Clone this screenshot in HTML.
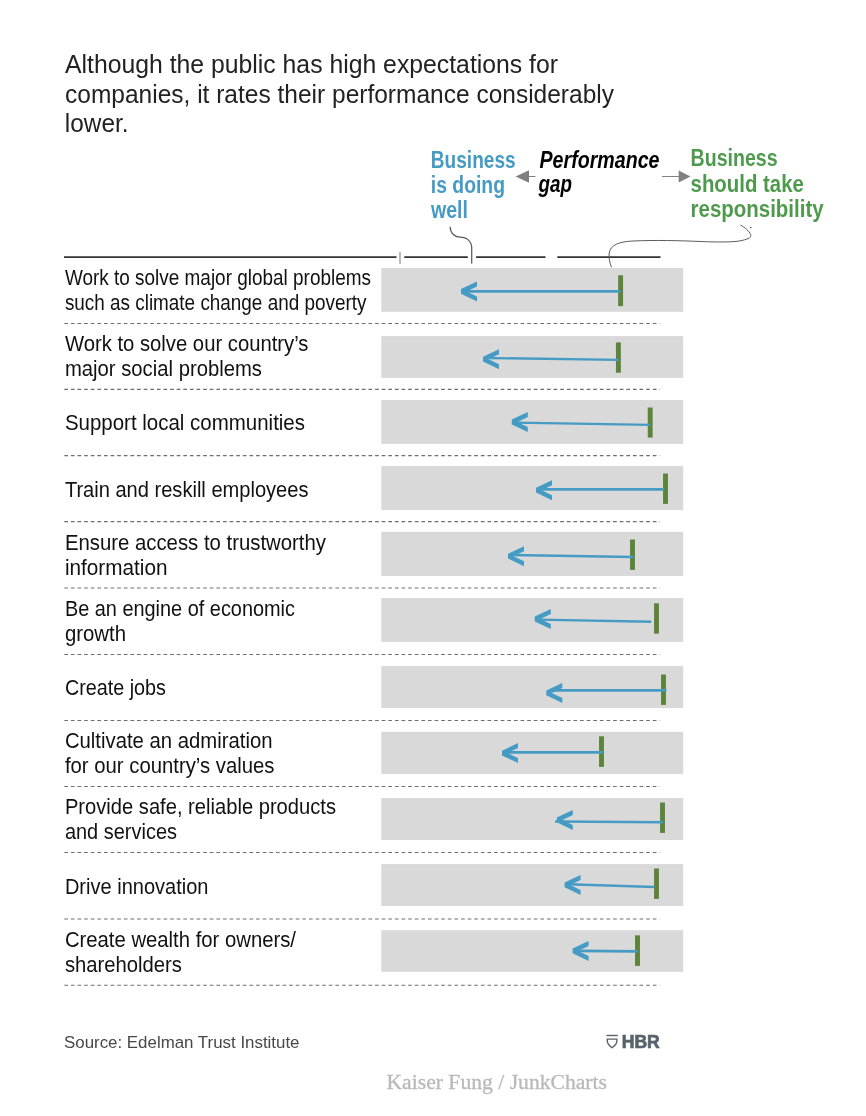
<!DOCTYPE html>
<html lang="en"><head><meta charset="utf-8"><title>Performance gap</title>
<style>
html,body{margin:0;padding:0;background:#fff;}
svg{display:block;}
text{font-family:"Liberation Sans",sans-serif;}
.t{font-size:25.2px;fill:#222;}
.l{font-size:22.5px;fill:#111;}
.hb{font-size:23px;font-weight:bold;}
.hi{font-size:23.5px;font-weight:bold;font-style:italic;}
.src{font-size:16.8px;fill:#484848;}
.wm{font-family:"Liberation Serif",serif;font-size:20.8px;fill:#b9b9b9;stroke:#b9b9b9;stroke-width:0.3px;}
.hbr{font-size:18.3px;font-weight:bold;fill:#59636b;}
</style></head><body>
<svg width="866" height="1116" viewBox="0 0 866 1116">
<rect width="866" height="1116" fill="#fff"/>
<text class="t" x="65" y="72.8" textLength="493.0" lengthAdjust="spacingAndGlyphs">Although the public has high expectations for</text>
<text class="t" x="65" y="102.5" textLength="549.0" lengthAdjust="spacingAndGlyphs">companies, it rates their performance considerably</text>
<text class="t" x="64.8" y="131.9" textLength="63.7" lengthAdjust="spacingAndGlyphs">lower.</text>
<text class="hb" x="430.8" y="168.0" textLength="84.8" lengthAdjust="spacingAndGlyphs" fill="#459bc3">Business</text>
<text class="hb" x="430.8" y="193.0" textLength="74.2" lengthAdjust="spacingAndGlyphs" fill="#459bc3">is doing</text>
<text class="hb" x="431" y="218.0" textLength="37.0" lengthAdjust="spacingAndGlyphs" fill="#459bc3">well</text>
<text class="hi" x="539.5" y="167.6" textLength="120.0" lengthAdjust="spacingAndGlyphs" fill="#000">Performance</text>
<text class="hi" x="538.5" y="192.4" textLength="33.5" lengthAdjust="spacingAndGlyphs" fill="#000">gap</text>
<text class="hb" x="690.6" y="166.3" textLength="87.0" lengthAdjust="spacingAndGlyphs" fill="#4e9a4c">Business</text>
<text class="hb" x="690.6" y="191.7" textLength="113.2" lengthAdjust="spacingAndGlyphs" fill="#4e9a4c">should take</text>
<text class="hb" x="690.6" y="217.0" textLength="133.0" lengthAdjust="spacingAndGlyphs" fill="#4e9a4c">responsibility</text>
<g fill="#808080" stroke="#808080" stroke-width="1">
<path d="M515.6 176.5 L529 170.3 L529 182.7 Z" stroke="none"/><path d="M529 176.5 H535.5" fill="none"/>
<path d="M690.5 176.5 L678.7 170.5 L678.7 182.5 Z" stroke="none"/><path d="M662 176.5 H679" fill="none"/>
</g>
<g stroke="#333" stroke-width="1.8" fill="none">
<path d="M64 257.15 H396.5 M404.3 257.15 H467.8 M476.1 257.15 H545.5 M557.3 257.15 H660.5"/>
</g>
<path d="M400 252 V264" stroke="#a6a6a6" stroke-width="1.5" fill="none"/>
<rect x="381.3" y="268" width="301.9" height="43.8" fill="#d9d9d9"/>
<rect x="381.3" y="336.1" width="301.9" height="41.8" fill="#d9d9d9"/>
<rect x="381.3" y="400" width="301.9" height="43.9" fill="#d9d9d9"/>
<rect x="381.3" y="466" width="301.9" height="44.1" fill="#d9d9d9"/>
<rect x="381.3" y="531.8" width="301.9" height="44.2" fill="#d9d9d9"/>
<rect x="381.3" y="598" width="301.9" height="43.9" fill="#d9d9d9"/>
<rect x="381.3" y="666.1" width="301.9" height="41.9" fill="#d9d9d9"/>
<rect x="381.3" y="731.8" width="301.9" height="42.2" fill="#d9d9d9"/>
<rect x="381.3" y="798" width="301.9" height="42.0" fill="#d9d9d9"/>
<rect x="381.3" y="864.1" width="301.9" height="41.9" fill="#d9d9d9"/>
<rect x="381.3" y="930.2" width="301.9" height="41.6" fill="#d9d9d9"/>
<g stroke="#5c5c5c" fill="none">
<path stroke-width="1.25" d="M450.1 226.7 C450.3 233 454.5 237.1 460 237.1 C467 237.1 471.7 241.5 471.7 248 V263.8"/>
<path stroke-width="1" d="M611.5 267.4 C609.5 262 608.6 257 609.2 253 C610.5 244.5 620 241.6 633 241 C655 240 680 240.6 700 241.5 C718 242.3 735 242.2 742 240.5 C749 238.8 751.8 237 750.6 234.5 C749.3 231 745 227.6 740.5 225.1"/>
</g>
<circle cx="750.7" cy="227.5" r="0.8" fill="#444"/>
<g stroke="#6e6e6e" stroke-width="1.1" stroke-dasharray="3.7 2.912" fill="none">
<path d="M64.3 323.5 H659.7"/>
<path d="M64.3 389.4 H659.7"/>
<path d="M64.3 455.6 H659.7"/>
<path d="M64.3 521.6 H659.7"/>
<path d="M64.3 588.0 H659.7"/>
<path d="M64.3 654.5 H659.7"/>
<path d="M64.3 720.5 H659.7"/>
<path d="M64.3 786.5 H659.7"/>
<path d="M64.3 852.5 H659.7"/>
<path d="M64.3 919.0 H659.7"/>
<path d="M64.3 985.3 H659.7"/>
</g>
<text class="l" x="64.9" y="285" textLength="306.1" lengthAdjust="spacingAndGlyphs">Work to solve major global problems</text>
<text class="l" x="64.9" y="310" textLength="301.5" lengthAdjust="spacingAndGlyphs">such as climate change and poverty</text>
<text class="l" x="64.9" y="351.1" textLength="243.6" lengthAdjust="spacingAndGlyphs">Work to solve our country’s</text>
<text class="l" x="64.9" y="375.6" textLength="197.1" lengthAdjust="spacingAndGlyphs">major social problems</text>
<text class="l" x="64.9" y="430.4" textLength="240.1" lengthAdjust="spacingAndGlyphs">Support local communities</text>
<text class="l" x="64.9" y="496.6" textLength="243.6" lengthAdjust="spacingAndGlyphs">Train and reskill employees</text>
<text class="l" x="64.9" y="549.7" textLength="261.1" lengthAdjust="spacingAndGlyphs">Ensure access to trustworthy</text>
<text class="l" x="64.9" y="574.5" textLength="102.6" lengthAdjust="spacingAndGlyphs">information</text>
<text class="l" x="64.9" y="616" textLength="230.1" lengthAdjust="spacingAndGlyphs">Be an engine of economic</text>
<text class="l" x="64.9" y="641" textLength="61.1" lengthAdjust="spacingAndGlyphs">growth</text>
<text class="l" x="64.9" y="695.3" textLength="101.1" lengthAdjust="spacingAndGlyphs">Create jobs</text>
<text class="l" x="64.9" y="748.4" textLength="207.6" lengthAdjust="spacingAndGlyphs">Cultivate an admiration</text>
<text class="l" x="64.9" y="773.3" textLength="209.6" lengthAdjust="spacingAndGlyphs">for our country’s values</text>
<text class="l" x="64.9" y="814.4" textLength="271.1" lengthAdjust="spacingAndGlyphs">Provide safe, reliable products</text>
<text class="l" x="64.9" y="839.3" textLength="112.1" lengthAdjust="spacingAndGlyphs">and services</text>
<text class="l" x="64.9" y="894.1" textLength="143.6" lengthAdjust="spacingAndGlyphs">Drive innovation</text>
<text class="l" x="64.9" y="946.6" textLength="231.1" lengthAdjust="spacingAndGlyphs">Create wealth for owners/</text>
<text class="l" x="64.9" y="971.5" textLength="117.1" lengthAdjust="spacingAndGlyphs">shareholders</text>
<rect x="618.15" y="275.3" width="4.9" height="30.8" fill="#5c843b"/>
<path d="M464.0 291.4 L620.4 291.4" stroke="#459bc3" stroke-width="2.9" fill="none"/>
<path transform="translate(461.0 291.4)" d="M0 -2.4 L16 -10 V-5 L5.5 0 L16 5 V10 L0 2.4 Z" fill="#459bc3"/>
<rect x="615.95" y="342.4" width="4.9" height="30.3" fill="#5c843b"/>
<path d="M486.0 358.0 L619.0 359.9" stroke="#459bc3" stroke-width="2.4" fill="none"/>
<path transform="translate(483.0 359.2)" d="M0 -2.4 L16 -10 V-5 L5.5 0 L16 5 V10 L0 2.4 Z" fill="#459bc3"/>
<rect x="647.75" y="407.5" width="4.9" height="30.1" fill="#5c843b"/>
<path d="M514.8 422.6 L650.0 424.9" stroke="#459bc3" stroke-width="2.4" fill="none"/>
<path transform="translate(511.8 422.0)" d="M0 -2.4 L16 -10 V-5 L5.5 0 L16 5 V10 L0 2.4 Z" fill="#459bc3"/>
<rect x="663.05" y="473.5" width="4.9" height="30.4" fill="#5c843b"/>
<path d="M539.0 489.4 L664.0 489.4" stroke="#459bc3" stroke-width="2.8" fill="none"/>
<path transform="translate(536.0 490.2)" d="M0 -2.4 L16 -10 V-5 L5.5 0 L16 5 V10 L0 2.4 Z" fill="#459bc3"/>
<rect x="630.05" y="539.5" width="4.9" height="30.4" fill="#5c843b"/>
<path d="M511.0 554.9 L633.3 556.9" stroke="#459bc3" stroke-width="2.5" fill="none"/>
<path transform="translate(508.0 556.2)" d="M0 -2.4 L16 -10 V-5 L5.5 0 L16 5 V10 L0 2.4 Z" fill="#459bc3"/>
<rect x="654.05" y="603.3" width="4.9" height="30.4" fill="#5c843b"/>
<path d="M537.8 619.6 L651.2 621.8" stroke="#459bc3" stroke-width="2.4" fill="none"/>
<path transform="translate(534.8 619.0)" d="M0 -2.4 L16 -10 V-5 L5.5 0 L16 5 V10 L0 2.4 Z" fill="#459bc3"/>
<rect x="661.05" y="674.5" width="4.9" height="30.4" fill="#5c843b"/>
<path d="M549.3 690.4 L666.5 690.4" stroke="#459bc3" stroke-width="2.8" fill="none"/>
<path transform="translate(546.3 692.9)" d="M0 -2.4 L16 -10 V-5 L5.5 0 L16 5 V10 L0 2.4 Z" fill="#459bc3"/>
<rect x="599.05" y="736.3" width="4.9" height="30.6" fill="#5c843b"/>
<path d="M505.0 752.4 L602.9 752.4" stroke="#459bc3" stroke-width="2.8" fill="none"/>
<path transform="translate(502.0 753.1)" d="M0 -2.4 L16 -10 V-5 L5.5 0 L16 5 V10 L0 2.4 Z" fill="#459bc3"/>
<rect x="660.05" y="802.5" width="4.9" height="30.4" fill="#5c843b"/>
<path d="M555.1 821.4 L662.9 822.3" stroke="#459bc3" stroke-width="2.5" fill="none"/>
<path transform="translate(556.8 819.9)" d="M0 -2.4 L16 -10 V-5 L5.5 0 L16 5 V10 L0 2.4 Z" fill="#459bc3"/>
<rect x="654.05" y="868.5" width="4.9" height="30.4" fill="#5c843b"/>
<path d="M567.6 884.2 L654.5 887.1" stroke="#459bc3" stroke-width="2.5" fill="none"/>
<path transform="translate(564.6 884.9)" d="M0 -2.4 L16 -10 V-5 L5.5 0 L16 5 V10 L0 2.4 Z" fill="#459bc3"/>
<rect x="635.05" y="935.3" width="4.9" height="30.6" fill="#5c843b"/>
<path d="M575.6 950.8 L637.5 951.4" stroke="#459bc3" stroke-width="2.7" fill="none"/>
<path transform="translate(572.6 950.9)" d="M0 -2.4 L16 -10 V-5 L5.5 0 L16 5 V10 L0 2.4 Z" fill="#459bc3"/>
<text class="src" x="64.0" y="1048.4" textLength="235.5" lengthAdjust="spacingAndGlyphs">Source: Edelman Trust Institute</text>
<g stroke="#59636b" stroke-width="1.4" fill="none"><path d="M606.4 1035.5 H617.8"/><path d="M607.3 1039.1 H616.9 V1041 C616.9 1044 614.5 1046 612.1 1047.7 C609.7 1046 607.3 1044 607.3 1041 Z"/></g>
<text class="hbr" x="621.7" y="1047.9" textLength="38.1" lengthAdjust="spacingAndGlyphs" stroke="#59636b" stroke-width="0.7">HBR</text>
<text class="wm" x="386.5" y="1089" textLength="220.5" lengthAdjust="spacingAndGlyphs">Kaiser Fung / JunkCharts</text>
</svg></body></html>
